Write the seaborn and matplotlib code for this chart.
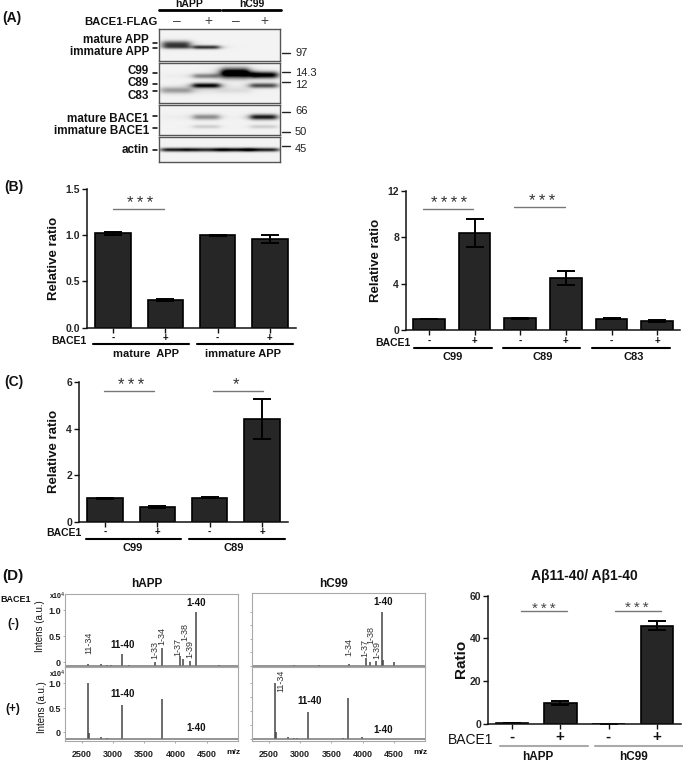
import numpy as np
import pandas as pd
import seaborn as sns
import matplotlib.pyplot as plt
from matplotlib.lines import Line2D

sns.set_style('white')
plt.rcParams['font.family'] = ['Liberation Sans', 'DejaVu Sans']

W, H = 683, 762

# western blot band strengths, one value per lane
mature_app = [0.72, 0.0, 0.0, 0.0]
immature_app = [0.35, 0.78, 0.0, 0.0]
c99_low = [0.02, 0.45, 0.0, 0.0]
c99_high = [0.0, 0.0, 1.25, 0.0]
c99_mid = [0.0, 0.0, 0.0, 1.05]
c89 = [0.0, 0.98, 0.0, 0.68]
c83 = [0.36, 0.06, 0.09, 0.0]
mature_bace = [0.02, 0.42, 0.0, 0.9]
immature_bace = [0.0, 0.15, 0.0, 0.15]
actin = [0.88, 0.8, 0.92, 0.85]

# bar values
b1_vals = [1.02, 0.30, 1.00, 0.96]
b1_err = [0.02, 0.015, 0.005, 0.045]
b2_vals = [1.0, 8.4, 1.02, 4.5, 1.0, 0.8]
b2_err = [0.0, 1.2, 0.03, 0.6, 0.02, 0.1]
c_vals = [1.0, 0.62, 1.04, 4.42]
c_err = [0.01, 0.04, 0.04, 0.87]
d_vals = [0.4, 9.7, 0.05, 46.0]
d_err = [0.1, 1.1, 0.0, 2.3]

# spectra: m/z and intensity
happ_neg_mz = [2605, 2800, 2900, 2960, 3150, 3260, 3674, 3786, 4075, 4128, 4230, 4332, 4700]
happ_neg_int = [0.04, 0.03, 0.025, 0.015, 0.22, 0.025, 0.08, 0.33, 0.18, 0.13, 0.10, 1.0, 0.015]
happ_pos_mz = [2605, 2620, 2800, 2900, 3150, 3786]
happ_pos_int = [1.0, 0.1, 0.03, 0.02, 0.62, 0.72]
hc99_neg_mz = [3777, 4060, 4117, 4213, 4309, 4325, 4505, 3300, 2900]
hc99_neg_int = [0.035, 0.15, 0.08, 0.09, 1.0, 0.11, 0.08, 0.012, 0.012]
hc99_pos_mz = [2590, 2615, 2800, 2900, 2950, 3125, 3680, 3770, 3985]
hc99_pos_int = [1.0, 0.12, 0.03, 0.02, 0.02, 0.48, 0.025, 0.73, 0.03]
mz_ticks = [2500, 3000, 3500, 4000, 4500]

STARS3 = '*\u2009*\u2009*'
STARS4 = '*\u2009*\u2009*\u2009*'


def T(x, y, s, ha='center', size=7.5, weight='bold', color='#111111', rot=0):
    fig.text(x / W, 1 - y / H, s, ha=ha, va='center', fontsize=size, fontweight=weight,
             color=color, rotation=rot)


def L(x0, x1, y0, y1=None, color='black', lw=1.5):
    y1 = y0 if y1 is None else y1
    fig.add_artist(Line2D([x0 / W, x1 / W], [1 - y0 / H, 1 - y1 / H], color=color, lw=lw))


def box(x0, y0, x1, y1):
    return fig.add_axes([x0 / W, 1 - y1 / H, (x1 - x0) / W, (y1 - y0) / H])


def bars(rect, vals, errs, yticks, width, cap):
    ax = box(*rect)
    df = pd.DataFrame({'pos': range(len(vals)), 'val': vals})
    sns.barplot(data=df, x='pos', y='val', ax=ax, color='#262626', saturation=1, width=width,
                edgecolor='black', linewidth=1.2, errorbar=None)
    ax.errorbar(range(len(vals)), vals, yerr=errs, fmt='none', ecolor='black', elinewidth=1.4,
                capsize=cap, capthick=1.4)
    ax.set_xlim(-0.5, len(vals) - 0.5)
    ax.set_ylim(0, yticks[-1])
    ax.set_yticks(yticks)
    ax.set_xticks(range(len(vals)))
    ax.set_xticklabels([])
    ax.set_xlabel('')
    ax.set_ylabel('')
    ax.patch.set_alpha(0)
    sns.despine(ax=ax)
    for s in ['left', 'bottom']:
        ax.spines[s].set_linewidth(1.1)
        ax.spines[s].set_color('#111111')
    ax.tick_params(axis='both', left=True, bottom=True, length=3.5, width=1, pad=1.5,
                   color='#111111')
    ax.tick_params(axis='y', labelsize=7.5)
    for t in ax.get_yticklabels():
        t.set_fontweight('bold')
    return ax


def blot(rect, rows):
    x0, y0, x1, y1 = rect
    nx, ny = int(x1 - x0) * 2, int(y1 - y0) * 2
    xs = np.linspace(x0, x1, nx)
    ys = np.linspace(y0, y1, ny)
    img = np.zeros((ny, nx))
    for yc, sig, hw, vals in rows:
        for xc, v in zip(lanes, vals):
            ex = 1 / (1 + ((xs - xc) / hw) ** 6)
            ey = np.exp(-((ys - yc) / sig) ** 2)
            img += v * np.outer(ey, ex)
    ax = box(*rect)
    sns.heatmap(1 - np.clip(img, 0, 1) * 0.95 - 0.05, cmap='gray', vmin=0, vmax=1, cbar=False,
                xticklabels=False, yticklabels=False, ax=ax)
    for s in ax.spines.values():
        s.set_visible(True)
        s.set_color('#555555')
        s.set_linewidth(1.0)


def spectrum(rect, mz, inten, ylim, ticks=None, bottom=False):
    ax = box(*rect)
    sns.despine(ax=ax, top=False, right=False)
    ax.vlines(mz, 0, inten, color='#444444', lw=1.1)
    ax.axhline(0, color='#777777', lw=1.1)
    ax.set_xlim(2232, 5000)
    ax.set_ylim(*ylim)
    for s in ax.spines.values():
        s.set_color('#a8a8a8')
        s.set_linewidth(0.8)
    if ticks:
        ax.set_yticks(ticks)
        ax.set_yticklabels(['0', '0.5', '1.0'], fontsize=6.5, fontweight='bold', color='#222222')
    else:
        ax.set_yticks([0, 0.25, 0.5, 0.75, 1.0])
        ax.set_yticklabels([])
    ax.tick_params(axis='y', left=True, length=1.5, width=0.5, pad=1.5, color='#888888')
    if bottom:
        ax.set_xticks(mz_ticks)
        ax.set_xticklabels(mz_ticks, fontsize=6.5, fontweight='bold', color='#222222')
        ax.tick_params(axis='x', bottom=True, length=1.5, width=0.5, pad=5, color='#888888')
    else:
        ax.set_xticks([])
    return ax


fig = plt.figure(figsize=(W / 100, H / 100), dpi=100, facecolor='white')

# (A) blots
lanes = [176, 206, 235, 263.5]
blot((159, 29, 280, 61), [(44, 3.4, 14, mature_app), (47, 2.0, 13.5, immature_app)])
blot((159, 62.7, 280, 103), [(76, 2.6, 13.5, c99_low), (73, 5.0, 14.5, c99_high), (75, 3.4, 14, c99_mid),
                             (85.7, 2.6, 14, c89), (90.5, 3.4, 16, c83)])
blot((159, 105, 280, 135), [(116.7, 2.8, 13.5, mature_bace), (126.5, 2.0, 13.5, immature_bace)])
blot((159, 137, 280, 162), [(149.5, 2.0, 15.5, actin)])

T(2, 18, '(A)', ha='left', size=10)
T(189, 4, 'hAPP', size=7.5)
T(252, 4, 'hC99', size=7.5)
L(159, 220, 10.3, lw=2)
L(221.5, 280.5, 10.3, lw=2)
T(158, 21.7, 'BACE1-FLAG', ha='right', size=8.2)
for x, s in zip([177, 208, 236, 264], ['–', '+', '–', '+']):
    T(x, 21, s, size=10, weight='normal', color='#444444')
for y, s in zip([40, 52, 71, 83.5, 96, 119, 130.5, 150],
                ['mature APP', 'immature APP', 'C99', 'C89', 'C83', 'mature BACE1',
                 'immature BACE1', 'actin']):
    T(149, y, s, ha='right', size=8.4)
for y in [43, 47.5, 73, 84, 91, 116, 127.5, 150]:
    L(153, 157, y, lw=1.1)
for y in [53, 72, 82, 111.7, 132, 146]:
    L(282, 290, y, lw=1.0, color='#222222')
for y, s in zip([53.5, 72.5, 85.5, 111, 131.7, 149], ['97', '14.3', '12', '66', '50', '45']):
    T(295, y, s, ha='left', size=8, weight='normal', color='#222222')

# (B) left
bars((87, 189, 296, 327.7), b1_vals, b1_err, [0, 0.5, 1.0, 1.5], 0.68, 6.5)
ax = fig.axes[-1]
ax.set_yticklabels(['0.0', '0.5', '1.0', '1.5'], fontweight='bold')
T(4, 186.7, '(B)', ha='left', size=10)
T(54, 258, 'Relative ratio', size=9.5, rot=90)
T(86, 340.7, 'BACE1', ha='right', size=7.5)
for x, s in zip([113, 165, 217, 269.5], ['-', '+', '-', '+']):
    T(x, 338, s, size=7)
L(93, 189, 344.3)
L(197, 293, 344.3)
T(146, 354, 'mature  APP', size=8)
T(243, 354, 'immature APP', size=8)
L(113, 164, 209, color='#777777', lw=1)
T(140, 203.5, STARS3, size=12, weight='normal', color='#333333')

# (B) right
bars((406, 191, 680, 330.3), b2_vals, b2_err, [0, 4, 8, 12], 0.69, 6.5)
T(376, 260, 'Relative ratio', size=9.5, rot=90)
T(410.7, 342.7, 'BACE1', ha='right', size=7.5)
for x, s in zip([429, 474.7, 520, 565.7, 611.7, 657], ['-', '+', '-', '+', '-', '+']):
    T(x, 340.7, s, size=7)
L(414, 491.7, 347.7)
L(502.7, 580, 347.7)
L(592, 670, 347.7)
T(452.7, 357, 'C99', size=8)
T(543, 357, 'C89', size=8)
T(634, 357, 'C83', size=8)
L(422.7, 472.7, 208.7, color='#777777', lw=1)
L(514, 565, 207, color='#777777', lw=1)
T(448.7, 203, STARS4, size=12, weight='normal', color='#333333')
T(541.7, 201, STARS3, size=12, weight='normal', color='#333333')

# (C)
bars((79, 382.3, 288, 521.7), c_vals, c_err, [0, 2, 4, 6], 0.68, 6.8)
T(4, 381.7, '(C)', ha='left', size=10)
T(54, 451, 'Relative ratio', size=9.5, rot=90)
T(81.7, 533, 'BACE1', ha='right', size=7.5)
for x, s in zip([105, 157, 209, 262], ['-', '+', '-', '+']):
    T(x, 532, s, size=7)
L(86, 180.7, 538.7)
L(189, 285, 538.7)
T(133, 548, 'C99', size=8)
T(234, 548, 'C89', size=8)
L(104, 154, 391, color='#777777', lw=1)
L(212.7, 263, 391, color='#777777', lw=1)
T(131, 385, STARS3, size=12, weight='normal', color='#333333')
T(236, 385, '*', size=12, weight='normal', color='#333333')

# (D) spectra
neg_ticks = [0.07, 0.55, 1.03]
pos_ticks = [0.12, 0.55, 1.0]
spectrum((65, 594, 238, 666.7), happ_neg_mz, happ_neg_int, (-0.013, 1.328), neg_ticks)
spectrum((65, 666.7, 238, 740.7), happ_pos_mz, happ_pos_int, (-0.03, 1.30), pos_ticks, True)
spectrum((252.3, 593, 425, 666.7), hc99_neg_mz, hc99_neg_int, (-0.013, 1.34))
spectrum((252.3, 666.7, 425, 740.7), hc99_pos_mz, hc99_pos_int, (-0.03, 1.30), None, True)

T(2, 575.7, '(D)', ha='left', size=11)
T(146.7, 584, 'hAPP', size=8.5)
T(334, 584, 'hC99', size=8.5)
T(0, 599, 'BACE1', ha='left', size=6.5)
T(13, 624, '(-)', size=8.5)
T(13, 709, '(+)', size=8.5)
T(40, 626, 'Intens (a.u.)', size=7, weight='normal', rot=90)
T(41.7, 707, 'Intens (a.u.)', size=7, weight='normal', rot=90)
T(57, 596, 'x10$^4$', size=5)
T(57, 674, 'x10$^4$', size=5)
T(233, 752, 'm/z', size=6)
T(420.7, 752, 'm/z', size=6)
for x, y, s in [(89, 643, '11-34'), (155, 650, '1-33'), (162, 635.7, '1-34'), (178, 646.7, '1-37'),
                (185, 632, '1-38'), (190, 649, '1-39'), (349, 647, '1-34'), (365, 648, '1-37'),
                (371, 635, '1-38'), (376.7, 650, '1-39'), (281, 680.7, '11-34')]:
    T(x, y, s, size=6.5, weight='normal', color='#333333', rot=90)
for x, y, s in [(122.7, 645, '11-40'), (196, 603, '1-40'), (122.7, 694, '11-40'), (196, 728, '1-40'),
                (382.7, 601.7, '1-40'), (309.7, 701, '11-40'), (382.7, 730, '1-40')]:
    T(x, y, s, size=7)

# (D) bars
bars((488.3, 595.7, 680.7, 723.7), d_vals, d_err, [0, 20, 40, 60], 0.67, 6.5)
T(584, 576, 'A\u03b211-40/ A\u03b21-40', size=10)
T(460.7, 659, 'Ratio', size=11, rot=90)
T(493, 740, 'BACE1', ha='right', size=10, weight='normal')
for x, s in zip([512.3, 560.3, 608.3, 656.7], ['-', '+', '-', '+']):
    T(x, 737, s, size=11)
L(500, 587.7, 746, color='#aaaaaa')
L(595, 682.7, 746, color='#aaaaaa')
T(538, 757, 'hAPP', size=8.5)
T(633, 757, 'hC99', size=8.5)
L(520.7, 566.7, 611.3, color='#777777', lw=1)
L(615, 661, 611.3, color='#777777', lw=1)
T(544, 609, STARS3, size=11, weight='normal', color='#444444')
T(637, 608, STARS3, size=11, weight='normal', color='#444444')

fig.savefig('out.png', dpi=100)
